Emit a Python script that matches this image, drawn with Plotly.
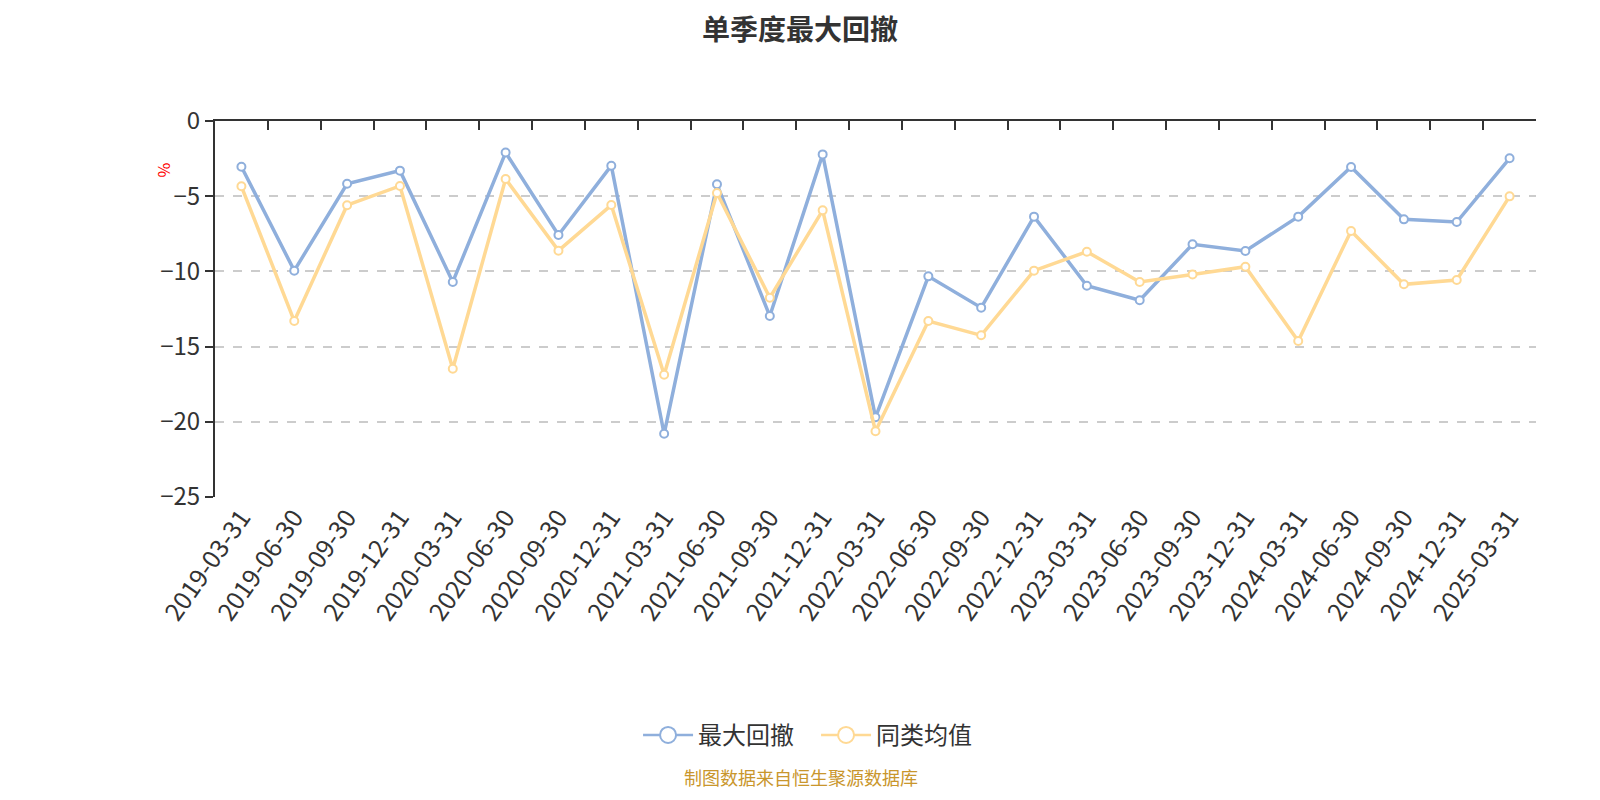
import plotly.graph_objects as go

quarters = [
    "2019-03-31", "2019-06-30", "2019-09-30", "2019-12-31",
    "2020-03-31", "2020-06-30", "2020-09-30", "2020-12-31",
    "2021-03-31", "2021-06-30", "2021-09-30", "2021-12-31",
    "2022-03-31", "2022-06-30", "2022-09-30", "2022-12-31",
    "2023-03-31", "2023-06-30", "2023-09-30", "2023-12-31",
    "2024-03-31", "2024-06-30", "2024-09-30", "2024-12-31",
    "2025-03-31",
]
max_drawdown = [
    -3.04, -9.95, -4.17, -3.30, -10.70, -2.10, -7.58, -2.97,
    -20.80, -4.21, -12.97, -2.22, -19.70, -10.33, -12.41, -6.36,
    -10.95, -11.92, -8.20, -8.64, -6.36, -3.06, -6.54, -6.72,
    -2.48,
]
peer_avg = [
    -4.34, -13.30, -5.60, -4.32, -16.47, -3.86, -8.62, -5.59,
    -16.87, -4.79, -11.75, -5.94, -20.63, -13.30, -14.25, -9.95,
    -8.69, -10.70, -10.20, -9.69, -14.63, -7.31, -10.86, -10.57,
    -5.01,
]

font = "Noto Sans CJK SC"
blue = "#8FAFDC"
yellow = "#FFD994"

fig = go.Figure()
for name, vals, col in [("最大回撤", max_drawdown, blue), ("同类均值", peer_avg, yellow)]:
    fig.add_trace(go.Scatter(
        x=quarters, y=vals, name=name, mode="lines+markers",
        line=dict(color=col, width=3.5), showlegend=False,
        marker=dict(symbol="circle", size=8, color="white",
                    line=dict(color=col, width=2)),
    ))
    # legend entry with a bigger ring, like the original
    fig.add_trace(go.Scatter(
        x=[None], y=[None], name=name, mode="lines+markers",
        line=dict(color=col, width=2.5),
        marker=dict(symbol="circle", size=16, color="white",
                    line=dict(color=col, width=2)),
    ))

# invisible copy on a top axis: the category axis line sits at y=0 with ticks pointing down
fig.add_trace(go.Scatter(
    x=quarters, y=max_drawdown, xaxis="x2", mode="lines",
    line=dict(width=0), opacity=0, showlegend=False, hoverinfo="skip",
))

# page body adds 8px, so the figure is 1584x784 and offsets are shifted by -8
fig.update_layout(
    width=1584, height=784,
    margin=dict(l=207, r=56, t=113, b=295),
    paper_bgcolor="white", plot_bgcolor="white",
    font=dict(family=font, color="#333333"),
    title=dict(text="<b>单季度最大回撤</b>", x=0.5, xanchor="center",
               y=0.972, yanchor="middle",
               font=dict(size=28, color="#333333", family=font)),
    xaxis=dict(
        type="category", range=[-0.5, 24.5], showline=False, ticks="",
        showgrid=False, tickangle=-55,
        tickfont=dict(size=25, color="#333333"),
    ),
    xaxis2=dict(
        type="category", overlaying="x", side="top", anchor="y",
        matches="x", showticklabels=False, showgrid=False,
        showline=True, linecolor="#333333", linewidth=2,
        ticks="inside", ticklen=9, tickwidth=2, tickcolor="#333333",
        tickson="boundaries",
    ),
    yaxis=dict(
        range=[-25, 0], dtick=5, showline=True, linecolor="#333333",
        linewidth=2, ticks="outside", ticklen=8, tickwidth=2,
        tickcolor="#333333", showgrid=True, gridcolor="#CCCCCC",
        griddash="dash", gridwidth=1.5, zeroline=False,
        tickfont=dict(size=24, color="#333333"),
    ),
    legend=dict(orientation="h", x=0.455, xanchor="center", y=-0.634,
                yanchor="middle", font=dict(size=24, color="#333333"),
                itemwidth=50, itemsizing="trace", entrywidth=113),
    annotations=[
        dict(text="%", xref="paper", yref="paper", x=-0.0485, y=0.893,
             showarrow=False, textangle=90,
             font=dict(size=16, color="red", family=font)),
        dict(text="制图数据来自恒生聚源数据库", xref="paper", yref="paper",
             x=0.4438, y=-0.745, yanchor="middle", showarrow=False,
             font=dict(size=18, color="#C9962C", family=font)),
    ],
)

fig.write_html("out.html")
